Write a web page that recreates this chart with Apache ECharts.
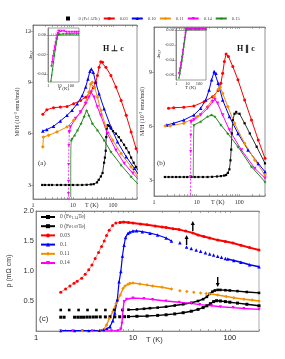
<!DOCTYPE html>
<html><head><meta charset="utf-8">
<script src="https://cdn.jsdelivr.net/npm/echarts@6/dist/echarts.min.js"></script>
<style>html,body{margin:0;padding:0;background:#fff}#c{width:285px;height:359px}</style>
</head><body><div id="c"></div>
<script>
// ---------- tick labels ----------
const TICKS400 = [1,2,3,4,5,6,7,8,9,10,20,30,40,50,60,70,80,90,100,200,300,400];
const TICKS200 = [1,2,3,4,5,6,7,8,9,10,20,30,40,50,60,70,80,90,100,200];
const DECADES = [1,10,100];
const chiTicksA = [3,6,9,12];
const chiTicksB = [3,6,9];
const rhoTicks = [0.5,1.0,1.5,2.0];
const insetTicksA = [0,-0.02,-0.04];
const insetTicksB = [0,-0.02,-0.04,-0.06];

// ---------- panel (a) H perp c : [T (K), M/H] ----------
const chiA_black = [[1.7,3.0],[2,3.0],[2.5,3.0],[3,3.0],[4,3.0],[5,3.0],[6.5,3.0],[8,3.0],[10,3.0],[13,3.0],[17,3.0],[22,3.01],[28,3.03],[33,3.05],[40,3.15],[44,3.3],[50,3.5],[55,3.7],[60,4.3],[63,4.6],[66,5.0],[68,5.8],[70,6.3],[74,6.5],[80,6.45],[89,6.3],[100,6.15],[119,6.0],[140,5.8],[160,5.6],[190,5.35],[215,5.15],[250,4.9],[285,4.6],[330,4.3],[380,4.05],[430,3.85]];
const chiA_red = [[1.76,7.13],[2.22,7.4],[3.26,7.52],[4.83,7.55],[7.1,7.59],[10.4,7.75],[15.5,7.94],[20.8,8.13],[26.6,8.42],[32.2,8.68],[37,9.0],[41,9.4],[45,9.88],[49.6,10.2],[55,10.17],[66.6,9.88],[89,9.4],[119,8.72],[160,7.94],[215,7.07],[285,6.1],[380,5.13],[445,4.74]];
const chiA_blue = [[1.76,6.16],[2.22,6.24],[3.26,6.43],[4.83,6.74],[7.1,7.07],[9.5,7.36],[12.8,7.75],[17.1,8.23],[20.8,8.72],[23.7,9.2],[26.6,9.65],[28.8,9.78],[32.2,9.59],[37,9.0],[45,8.33],[60,7.46],[89,6.39],[130,5.52],[215,4.65],[345,3.97],[445,3.58]];
const chiA_orange = [[1.76,5.23],[1.82,5.8],[2.44,5.9],[3.98,6.1],[7.1,6.39],[10.4,6.78],[15.5,7.26],[20.8,7.84],[25,8.42],[27.7,8.9],[30.6,9.0],[35,8.7],[41,8.13],[49.6,7.36],[66.6,6.39],[98,5.62],[160,4.84],[285,4.06],[445,3.39]];
const chiA_magenta = [[8.1,6.1],[8.6,6.39],[11.6,6.88],[15.5,7.26],[20.8,7.75],[25,8.13],[28.8,8.42],[33.7,8.13],[41,7.55],[49.6,7.07],[73,6.0],[119,5.03],[192,4.26],[315,3.68],[445,3.29]];
const chiA_magentaDrop = [[7.7,1.5],[7.7,2.5],[7.75,3.2],[7.8,4.2],[7.9,5.3],[8.1,6.1]];
const chiA_green = [[9.1,5.62],[9.5,5.71],[11,5.9],[13,6.2],[16,6.6],[19,7.0],[22,7.36],[25,7.07],[30.6,6.59],[41,6.2],[60,5.62],[89,4.94],[160,4.16],[285,3.48],[445,3.0]];
const chiA_greenDrop = [[8.8,2.3],[8.8,3.5],[8.8,4.5],[8.9,5.3],[9.1,5.62]];

// ---------- panel (b) H || c ----------
const chiB_black = [[1.8,3.17],[2.2,3.17],[2.7,3.17],[3.3,3.17],[4,3.17],[5,3.17],[6,3.17],[7.5,3.17],[9,3.17],[11,3.17],[14,3.17],[18,3.17],[23,3.18],[30,3.2],[37,3.22],[44,3.25],[49,3.28],[54,3.4],[58.6,3.6],[62,4.1],[64.5,4.7],[66.8,5.6],[70.5,6.35],[77,6.7],[84.6,6.8],[101,6.7],[133,6.17],[176,5.6],[255,4.86],[400,3.93]];
const chiB_red = [[2.19,7.0],[2.89,7.04],[5.0,7.06],[8.6,7.13],[14.9,7.37],[23.6,7.65],[32,7.99],[37,8.4],[40.7,8.96],[44.7,9.61],[49,10.04],[55.6,9.89],[70.5,9.33],[93,8.59],[133,7.47],[193,6.35],[278,5.23],[400,4.21]];
const chiB_blue = [[2.0,6.07],[2.89,6.17],[5.0,6.35],[8.6,6.63],[12.4,7.0],[16.3,7.47],[19.6,8.03],[22.4,8.59],[25.8,9.05],[28.3,8.96],[32,8.4],[40.7,7.47],[58.6,6.54],[93,5.6],[160,4.68],[278,3.93],[400,3.46]];
const chiB_orange = [[1.83,6.02],[2.4,6.02],[5,6.17],[10.4,6.54],[18,7.1],[25.8,7.65],[32,8.07],[35.7,8.18],[40.7,7.84],[53.6,7.1],[77,6.17],[133,5.05],[231,4.12],[400,3.28]];
const chiB_magenta = [[7.4,6.26],[8.6,6.35],[12.4,6.63],[18,7.0],[23.6,7.37],[26.8,7.5],[30.9,7.29],[40.7,6.63],[58.6,5.79],[112,4.68],[231,3.65],[400,3.1]];
const chiB_magentaDrop = [[7.2,1.8],[7.2,3.2],[7.25,4.6],[7.3,5.5],[7.4,6.26]];
const chiB_green = [[8.6,6.07],[12.4,6.26],[18,6.54],[22.4,6.63],[26.8,6.54],[37,6.07],[53.6,5.6],[93,4.86],[193,3.74],[400,2.9]];
const chiB_greenDrop = [[8.3,3.2],[8.4,4.5],[8.5,5.6],[8.6,6.07]];

// ---------- insets: 4 pi chi_v ----------
const insA_magenta = [[2,-0.032],[2.3,-0.028],[2.7,-0.022],[3.2,-0.017],[3.8,-0.012],[4.5,-0.008],[5.3,-0.004],[6.2,-0.001],[7,0.002],[8,0.004],[10,0.004],[15,0.004],[25,0.004],[40,0.003],[70,0.003],[120,0.003],[200,0.003],[300,0.003],[450,0.003]];
const insA_green = [[1.8,-0.047],[2.1,-0.041],[2.5,-0.035],[3,-0.028],[3.6,-0.021],[4.3,-0.015],[5.2,-0.009],[6.2,-0.004],[7.3,0],[8.5,0.001],[10,0.001],[20,0.001],[40,0.001],[80,0.001],[150,0.001],[300,0.001],[450,0.001]];
const insB_magenta = [[1.8,-0.058],[2.2,-0.052],[2.7,-0.044],[3.3,-0.036],[4,-0.027],[4.8,-0.019],[5.7,-0.011],[6.7,-0.004],[7.5,0.001],[8.5,0.002],[12,0.002],[25,0.002],[50,0.002],[100,0.002],[200,0.002],[400,0.002]];
const insB_green = [[1.8,-0.064],[2.2,-0.058],[2.7,-0.05],[3.3,-0.041],[4,-0.032],[4.8,-0.022],[5.7,-0.013],[6.7,-0.005],[7.7,0],[9,0.001],[20,0.001],[50,0.001],[100,0.001],[400,0.001]];

// ---------- panel (c) resistivity [T, rho] ----------
const rhoK1_low = [[1.8,0.35],[2.2,0.35],[2.75,0.35],[3.4,0.35],[4.2,0.35],[5.2,0.35],[6.4,0.35],[7.8,0.35]];
const rhoK1 = [[9,0.355],[11,0.36],[13,0.37],[15,0.38],[18,0.39],[22,0.405],[27,0.425],[33,0.445],[40,0.47],[47,0.5],[53,0.53],[58,0.57],[62,0.62],[66,0.655],[70,0.675],[75,0.685],[80,0.685],[90,0.68],[100,0.675],[120,0.665],[150,0.65],[200,0.635]];
const rhoK2_low = [[1.8,0.23],[1.95,0.23],[2.5,0.23],[2.7,0.23],[2.9,0.23],[3.1,0.23],[3.35,0.232],[3.6,0.232],[3.9,0.233],[4.2,0.234],[4.6,0.235],[5.2,0.235],[5.8,0.236],[6.5,0.236],[7.3,0.237],[8.2,0.238]];
const rhoK2 = [[9,0.24],[11,0.245],[14,0.25],[18,0.26],[22,0.27],[27,0.285],[33,0.305],[40,0.33],[47,0.36],[53,0.39],[58,0.42],[63,0.455],[68,0.49],[73,0.505],[80,0.5],[90,0.49],[100,0.48],[120,0.465],[150,0.445],[200,0.42]];
const rhoRed_low = [[1.8,0.645],[2.02,0.7],[2.24,0.75],[2.47,0.795],[2.66,0.83],[2.96,0.88],[3.22,0.945],[3.5,1.02],[3.78,1.1],[4.08,1.21],[4.42,1.31],[4.75,1.41],[5.06,1.5],[5.35,1.59],[5.7,1.68],[6.17,1.76],[6.67,1.8],[7.36,1.81]];
const rhoRed = [[7.36,1.81],[8,1.815],[9,1.81],[10,1.8],[12,1.785],[14,1.77],[17,1.75],[20,1.735],[22,1.725],[26,1.705],[30,1.69],[35,1.665],[41.5,1.635],[47,1.6],[54,1.575],[62,1.55],[75,1.515],[90,1.49],[108,1.465],[130,1.43],[160,1.39],[200,1.35]];
const rhoBlue_low = [[1.8,0.005],[2.5,0.005],[3.5,0.005],[4.5,0.01],[5.0,0.02],[5.4,0.04],[5.8,0.07]];
const rhoBlue = [[5.8,0.07],[6.2,0.17],[6.5,0.3],[6.9,0.52],[7.2,0.82],[7.5,0.99],[7.8,1.25],[8.1,1.43],[8.4,1.56],[8.9,1.63],[9.3,1.65],[10,1.665],[10.9,1.67],[12.5,1.655],[15,1.63],[18,1.6],[22,1.55],[25,1.5]];
const rhoBlue_mid = [[30.5,1.47],[35.8,1.4],[40,1.375],[45,1.35],[50,1.33],[56,1.305],[62,1.285],[68,1.265],[75,1.245],[82,1.23],[90,1.21]];
const rhoBlue_high = [[95,1.2],[110,1.175],[130,1.145],[160,1.105],[200,1.07]];
const rhoOrange_low = [[1.8,0.0],[3,0.0],[4.5,0.005],[5.0,0.03],[5.35,0.1]];
const rhoOrange = [[5.35,0.1],[5.7,0.21],[6.2,0.32],[6.7,0.46],[7.0,0.52],[7.4,0.6],[7.9,0.71],[8.3,0.75],[8.9,0.78],[9.3,0.795],[10,0.8],[11.8,0.785],[14,0.765],[16,0.75],[20,0.73],[25,0.7]];
const rhoOrange_mid = [[30.5,0.67],[36,0.66],[42.5,0.645],[50,0.635],[57,0.625]];
const rhoOrange_high = [[62,0.62],[75,0.6],[92,0.575],[110,0.555],[140,0.53],[170,0.515],[200,0.5]];
const rhoMagenta_low = [[1.8,0.003],[2.4,0.003],[3,0.003],[3.8,0.003],[5,0.003],[6,0.004],[7,0.005],[7.5,0.03]];
const rhoMagenta = [[7.5,0.03],[7.7,0.13],[7.9,0.35],[8.1,0.49],[8.6,0.53],[10,0.55],[13,0.54],[16,0.525],[22,0.5],[30,0.48],[40,0.46],[49,0.44],[65,0.42],[80,0.405],[108,0.39],[140,0.375],[200,0.36]];
const arrowsUp = [[41.5,1.635],[35.8,1.40]];
const arrowsDown = [[75,0.685]];

// ---------- styles ----------
const SERIF = 'Liberation Serif';
const SANS = 'Liberation Sans';
const C = {black:'#000000', red:'#ff0000', blue:'#0000ff', orange:'#f39000', magenta:'#ff00ff', green:'#1f8a1f'};
const STAR = 'path://M5,0L6.2,3.6L10,3.6L7,5.9L8.1,9.5L5,7.3L1.9,9.5L3,5.9L0,3.6L3.8,3.6Z';
const ARROW = 'path://M2,0L4,4L2.7,4L2.7,10L1.3,10L1.3,4L0,4Z';
const AX = '#777';

function xAxisPair(gi, max, ticks, font, fs, lblColor) {
  const base = {type:'log', logBase:10, gridIndex:gi, min:1, max:max, splitLine:{show:false},
    axisLine:{show:true, lineStyle:{color:AX, width:0.8}},
    axisTick:{show:true, inside:true, length:2, customValues:ticks, lineStyle:{color:AX, width:0.6}}};
  return [
    Object.assign({}, base, {position:'bottom',
      axisLabel:{show:true, customValues:DECADES, formatter:v=>String(Math.round(v)), fontFamily:font, fontSize:fs, color:lblColor, margin:3}}),
    Object.assign({}, base, {position:'top', axisLabel:{show:false}})
  ];
}
function yAxisMain(gi, min, max, ticks, fmt, font, fs, name, nameGap, nameStyle, tickLen) {
  return {type:'value', gridIndex:gi, min:min, max:max, splitLine:{show:false},
    axisLine:{show:true, lineStyle:{color:AX, width:0.8}},
    axisTick:{show:true, inside:false, length:tickLen, customValues:ticks, lineStyle:{color:AX, width:0.6}},
    axisLabel:{customValues:ticks, formatter:fmt, fontFamily:font, fontSize:fs, color:'#333', margin:2},
    name:name, nameLocation:'middle', nameGap:nameGap, nameTextStyle:nameStyle};
}
function ln(name, data, xi, yi, sym, color, extra) {
  return Object.assign({type:'line', name:name, data:data, xAxisIndex:xi, yAxisIndex:yi,
    symbol:sym, symbolSize:3, showSymbol:true, color:color,
    itemStyle:{color:color}, lineStyle:{color:color, width:1}, animation:false, clip:true,
    emphasis:{disabled:true}, z:3}, extra || {});
}
function pts(name, data, xi, yi, sym, color, extra) {
  return ln(name, data, xi, yi, sym, color, Object.assign({lineStyle:{width:0, color:color}}, extra || {}));
}

const supStyle = {fontFamily:SERIF, fontSize:6, color:'#333', rich:{sup:{fontFamily:SERIF, fontSize:4, color:'#333', verticalAlign:'top', padding:[0,0,3,0]}}};
const insetName = {fontFamily:SERIF, fontSize:5, color:'#333', rich:{s:{fontFamily:SERIF, fontSize:3.5, color:'#333', verticalAlign:'bottom'}}};

const xAxes = [].concat(
  xAxisPair(0, 400, TICKS400, SERIF, 6, '#333'),
  xAxisPair(1, 400, TICKS400, SERIF, 6, '#333'),
  xAxisPair(2, 200, TICKS200, SANS, 7.5, '#222'),
  [
    {type:'log', logBase:10, gridIndex:3, min:1, max:500, splitLine:{show:false}, axisLine:{lineStyle:{color:AX, width:0.7}},
     axisTick:{inside:true, length:1.5, customValues:TICKS400, lineStyle:{color:AX, width:0.5}},
     axisLabel:{customValues:DECADES, formatter:v=>String(Math.round(v)), fontFamily:SERIF, fontSize:4.5, color:'#333', margin:1.5}},
    {type:'log', logBase:10, gridIndex:4, min:1, max:400, splitLine:{show:false}, axisLine:{lineStyle:{color:AX, width:0.7}},
     axisTick:{inside:true, length:1.5, customValues:TICKS400, lineStyle:{color:AX, width:0.5}},
     axisLabel:{customValues:DECADES, formatter:v=>String(Math.round(v)), fontFamily:SERIF, fontSize:4.5, color:'#333', margin:1.5}}
  ]
);

const yAxes = [
  yAxisMain(0, 2.18, 12.35, chiTicksA, v=>String(v), SERIF, 6, 'M/H (10{sup|-3} emu/mol)', 12, supStyle, 3),
  yAxisMain(1, 2.11, 11.54, chiTicksB, v=>String(v), SERIF, 6, 'M/H (10{sup|-3} emu/mol)', 7, supStyle, 2),
  yAxisMain(2, 0, 2.0, rhoTicks, v=>v.toFixed(1), SANS, 7.5, 'ρ (mΩ cm)', 16, {fontFamily:SANS, fontSize:7, color:'#333'}, 0),
  yAxisMain(3, -0.048, 0.007, insetTicksA, v=>v.toFixed(2), SERIF, 4.5, '4πχ{s|v}', 14, insetName, 1.5),
  yAxisMain(4, -0.0667, 0.00267, insetTicksB, v=>v.toFixed(2), SERIF, 4.5, '4πχ{s|v}', 13, insetName, 1.5)
];

function panelChi(xi, yi, d) {
  return [
    ln('0 (Fe1.14Te)', d.black, xi, yi, 'rect', C.black, {symbolSize:2.2, lineStyle:{color:C.black, width:0.8}}),
    ln('0.03', d.red, xi, yi, 'circle', C.red, {symbolSize:3}),
    ln('0.10', d.blue, xi, yi, 'triangle', C.blue, {symbolSize:3.5}),
    ln('0.11', d.orange, xi, yi, 'diamond', C.orange, {symbolSize:3.8}),
    ln('0.14', d.magenta, xi, yi, 'triangle', C.magenta, {symbolSize:3.5, symbolRotate:180}),
    ln('0.14', d.magentaDrop, xi, yi, 'triangle', C.magenta, {symbolSize:3, symbolRotate:180, lineStyle:{color:C.magenta, width:0.8, type:[2,1.5]}}),
    ln('0.15', d.green, xi, yi, STAR, C.green, {symbolSize:3.5}),
    ln('0.15', d.greenDrop, xi, yi, 'none', C.green, {lineStyle:{color:C.green, width:0.8}})
  ];
}

const series = [].concat(
  panelChi(0, 0, {black:chiA_black, red:chiA_red, blue:chiA_blue, orange:chiA_orange, magenta:chiA_magenta, magentaDrop:chiA_magentaDrop, green:chiA_green, greenDrop:chiA_greenDrop}),
  panelChi(2, 1, {black:chiB_black, red:chiB_red, blue:chiB_blue, orange:chiB_orange, magenta:chiB_magenta, magentaDrop:chiB_magentaDrop, green:chiB_green, greenDrop:chiB_greenDrop}),
  [
    ln('0.14', insA_magenta, 6, 3, 'triangle', C.magenta, {symbolSize:2.5, symbolRotate:180}),
    ln('0.15', insA_green, 6, 3, STAR, C.green, {symbolSize:2.5}),
    ln('0.14', insB_magenta, 7, 4, 'triangle', C.magenta, {symbolSize:2.5, symbolRotate:180}),
    ln('0.15', insB_green, 7, 4, STAR, C.green, {symbolSize:2.5}),
    // panel (c)
    ln('0 (Fe1.09Te)', rhoK2, 4, 2, 'rect', C.black, {symbolSize:3, lineStyle:{color:C.black, width:1.4}}),
    pts('0 (Fe1.09Te)', rhoK2_low, 4, 2, 'rect', C.black, {symbolSize:3}),
    ln('0 (Fe1.14Te)', rhoK1, 4, 2, 'rect', C.black, {symbolSize:2.6, lineStyle:{color:C.black, width:1.4},
      markPoint:{symbol:ARROW, symbolSize:[4,10], symbolRotate:180, symbolOffset:[0,-8],
        itemStyle:{color:'#000'}, label:{show:false}, data:arrowsDown.map(c=>({coord:c}))}}),
    pts('0 (Fe1.14Te)', rhoK1_low, 4, 2, 'rect', C.black, {symbolSize:2.6}),
    ln('0.14', rhoMagenta_low, 4, 2, 'triangle', C.magenta, {symbolSize:3, symbolRotate:180, lineStyle:{color:C.magenta, width:1.2}}),
    ln('0.14', rhoMagenta, 4, 2, 'triangle', C.magenta, {symbolSize:3, symbolRotate:180, lineStyle:{color:C.magenta, width:1.4}}),
    ln('0.11', rhoOrange_low, 4, 2, 'diamond', C.orange, {symbolSize:3, lineStyle:{color:C.orange, width:1.2}}),
    ln('0.11', rhoOrange, 4, 2, 'diamond', C.orange, {symbolSize:3.5, lineStyle:{color:C.orange, width:1.4}}),
    pts('0.11', rhoOrange_mid, 4, 2, 'diamond', C.orange, {symbolSize:3.5}),
    ln('0.11', rhoOrange_high, 4, 2, 'diamond', C.orange, {symbolSize:3.5, lineStyle:{color:C.orange, width:1.6}}),
    ln('0.1', rhoBlue_low, 4, 2, 'triangle', C.blue, {symbolSize:3, lineStyle:{color:C.blue, width:1.2}}),
    ln('0.1', rhoBlue, 4, 2, 'triangle', C.blue, {symbolSize:3.5, lineStyle:{color:C.blue, width:1.2}}),
    pts('0.1', rhoBlue_mid, 4, 2, 'triangle', C.blue, {symbolSize:3.5,
      markPoint:{symbol:ARROW, symbolSize:[4,10], symbolOffset:[0,-7],
        itemStyle:{color:'#000'}, label:{show:false}, data:[{coord:arrowsUp[1]}]}}),
    ln('0.1', rhoBlue_high, 4, 2, 'triangle', C.blue, {symbolSize:3.5, lineStyle:{color:C.blue, width:1.6}}),
    ln('0.03', rhoRed_low, 4, 2, 'circle', C.red, {symbolSize:3, lineStyle:{color:C.red, width:0.5}}),
    ln('0.03', rhoRed, 4, 2, 'circle', C.red, {symbolSize:3, lineStyle:{color:C.red, width:2},
      markPoint:{symbol:ARROW, symbolSize:[4,10], symbolOffset:[0,-7],
        itemStyle:{color:'#000'}, label:{show:false}, data:[{coord:arrowsUp[0]}]}})
  ]
);

const subFmt = n => n.replace(/\(Fe([0-9.]+)Te\)/, '(Fe{s|$1}Te)');
const legendText = fs => ({fontFamily:SERIF, fontSize:fs, color:'#444', rich:{s:{fontFamily:SERIF, fontSize:fs*0.7, color:'#444', verticalAlign:'bottom', padding:[2,0,0,0]}}});

const option = {
  backgroundColor:'#fff',
  animation:false,
  grid:[
    {left:33, top:25, width:104, height:174, show:true, borderColor:AX, borderWidth:0.8, backgroundColor:'transparent', outerBoundsMode:'none'},
    {left:154, top:27, width:111, height:169, show:true, borderColor:AX, borderWidth:0.8, backgroundColor:'transparent', outerBoundsMode:'none'},
    {left:36, top:211, width:223, height:120, show:true, borderColor:'#999', borderWidth:0.8, backgroundColor:'transparent', outerBoundsMode:'none'},
    {left:48, top:28, width:31, height:54, show:true, borderColor:AX, borderWidth:0.7, backgroundColor:'#fff', outerBoundsMode:'none'},
    {left:176, top:28, width:30, height:52, show:true, borderColor:AX, borderWidth:0.7, backgroundColor:'#fff', outerBoundsMode:'none'}
  ],
  xAxis: xAxes,
  yAxis: yAxes,
  legend:[
    {top:16, left:66, orient:'horizontal', itemWidth:11, itemHeight:4, itemGap:3, padding:0, selectedMode:false,
     textStyle:legendText(4.6), formatter:subFmt,
     data:[{name:'0 (Fe1.14Te)', icon:'path://M0,0H10V10H0Z'}, '0.03','0.10','0.11','0.14','0.15']},
    {top:214, left:40, orient:'vertical', itemWidth:14, itemHeight:5, itemGap:3.2, padding:0, selectedMode:false,
     textStyle:legendText(5.5), formatter:subFmt,
     data:['0 (Fe1.14Te)','0 (Fe1.09Te)','0.03','0.1','0.11','0.14']}
  ],
  graphic:[
    {type:'text', left:103, top:45, style:{text:'H ⊥ c', font:'bold 8px "Liberation Serif"', fill:'#111'}},
    {type:'text', left:237, top:45, style:{text:'H ∥ c', font:'bold 8px "Liberation Serif"', fill:'#111'}},
    {type:'text', left:38, top:160, style:{text:'(a)', font:'7px "Liberation Serif"', fill:'#333'}},
    {type:'text', left:157, top:160, style:{text:'(b)', font:'7px "Liberation Serif"', fill:'#333'}},
    {type:'text', left:39, top:315, style:{text:'(c)', font:'8px "Liberation Sans"', fill:'#333'}},
    {type:'text', left:85, top:202, style:{text:'T (K)', font:'6px "Liberation Serif"', fill:'#333'}},
    {type:'text', left:211, top:199, style:{text:'T (K)', font:'6px "Liberation Serif"', fill:'#333'}},
    {type:'text', left:146, top:336, style:{text:'T (K)', font:'7.5px "Liberation Sans"', fill:'#333'}},
    {type:'text', left:58, top:86, style:{text:'T (K)', font:'5px "Liberation Serif"', fill:'#333'}},
    {type:'text', left:185, top:85, style:{text:'T (K)', font:'5px "Liberation Serif"', fill:'#333'}}
  ],
  series: series
};

const chart = echarts.init(document.getElementById('c'), null, {renderer:'canvas', width:285, height:359});
chart.setOption(option);
</script>
</body></html>
